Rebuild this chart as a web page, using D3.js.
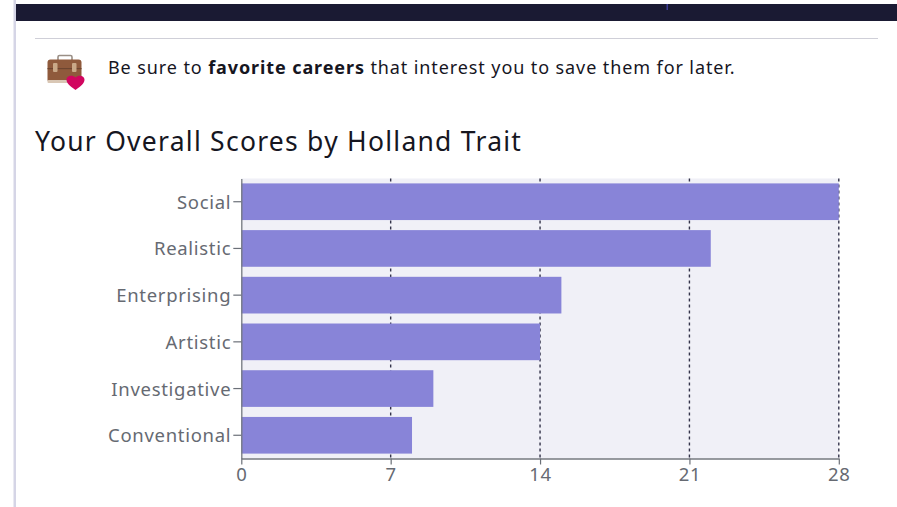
<!DOCTYPE html>
<html>
<head>
<meta charset="utf-8">
<script src="https://cdn.jsdelivr.net/npm/d3@7"></script>
<style>
  html, body { margin: 0; padding: 0; background: #fff; overflow: hidden; }
  svg { display: block; }
  text { font-family: "Noto Sans", "Open Sans", sans-serif; }
</style>
</head>
<body>
<svg id="chart" width="897" height="507"></svg>
<script>
const traits = ["Social", "Realistic", "Enterprising", "Artistic", "Investigative", "Conventional"];
const scores = [28, 22, 15, 14, 9, 8];
const xTicks = [0, 7, 14, 21, 28];

const svg = d3.select("#chart");

// Page chrome: left rail, dark header strip, divider
svg.append("rect").attr("x", 13.5).attr("y", 0).attr("width", 2.5).attr("height", 507).attr("fill", "#d5d5e6");
svg.append("rect").attr("x", 16).attr("y", 4).attr("width", 881).attr("height", 17).attr("fill", "#1a1a33");
svg.append("rect").attr("x", 666.5).attr("y", 4).attr("width", 1.5).attr("height", 6).attr("fill", "#3c3c96");
svg.append("rect").attr("x", 35).attr("y", 38).attr("width", 843).attr("height", 1).attr("fill", "#cfcfd8");

// Briefcase with heart badge
const icon = svg.append("g");
icon.append("path")
  .attr("d", "M58 60 v-3 q0 -1.5 1.5 -1.5 h11 q1.5 0 1.5 1.5 v3")
  .attr("fill", "none").attr("stroke", "#9a8f86").attr("stroke-width", 1.6);
icon.append("rect").attr("x", 47.5).attr("y", 59.5).attr("width", 34).attr("height", 23).attr("rx", 3).attr("fill", "#8f5a3c");
icon.append("rect").attr("x", 47.5).attr("y", 68).attr("width", 34).attr("height", 1.2).attr("fill", "#6d4530");
icon.append("rect").attr("x", 47.5).attr("y", 80).attr("width", 30).attr("height", 3).attr("rx", 1).attr("fill", "#d9c7b5");
[53, 72].forEach(x => {
  icon.append("rect").attr("x", x).attr("y", 63).attr("width", 4.5).attr("height", 9).attr("rx", 1).attr("fill", "#c9a988");
});
icon.append("path")
  .attr("d", "M75.5 90 C70 86 66.5 83.5 66.5 79.5 C66.5 75.5 72.5 74.5 75.5 77.5 C78.5 74.5 84.5 75.5 84.5 79.5 C84.5 83.5 81 86 75.5 90 Z")
  .attr("fill", "#d1065f");

// Reminder line
const note = svg.append("text").attr("x", 108).attr("y", 73.5)
  .attr("font-size", 18).attr("letter-spacing", 0.9).attr("fill", "#16161f");
note.append("tspan").text("Be sure to ");
note.append("tspan").attr("font-weight", 700).text("favorite careers");
note.append("tspan").text(" that interest you to save them for later.");

// Heading
svg.append("text").attr("x", 35).attr("y", 151)
  .attr("font-size", 26.5).attr("letter-spacing", 1.25).attr("fill", "#16161f")
  .text("Your Overall Scores by Holland Trait");

// Plot area
const plot = { left: 241.3, right: 838.8, top: 178.5, bottom: 458.5 };
const x = d3.scaleLinear().domain([0, 28]).range([plot.left, plot.right]);
const y = d3.scaleBand().domain(traits).range([plot.top, plot.bottom]).paddingInner(0.215).paddingOuter(0.105);

svg.append("rect")
  .attr("x", plot.left).attr("y", plot.top)
  .attr("width", plot.right - plot.left).attr("height", plot.bottom - plot.top)
  .attr("fill", "#f0f0f7");

// Vertical dashed gridlines, drawn under the bars
svg.append("g").selectAll("line")
  .data(xTicks.slice(1))
  .join("line")
  .attr("x1", d => x(d)).attr("x2", d => x(d))
  .attr("y1", plot.top).attr("y2", plot.bottom)
  .attr("stroke", "#33334a").attr("stroke-width", 1.4).attr("stroke-dasharray", "3,3");

// Bars
svg.append("g").selectAll("rect")
  .data(traits.map((t, i) => ({ trait: t, score: scores[i] })))
  .join("rect")
  .attr("x", x(0))
  .attr("y", d => y(d.trait))
  .attr("width", d => x(d.score) - x(0))
  .attr("height", y.bandwidth())
  .attr("fill", "#8884d8");

// Axes
const xAxis = svg.append("g")
  .attr("transform", `translate(0,${plot.bottom})`)
  .call(d3.axisBottom(x).tickValues(xTicks).tickSize(6).tickPadding(3).tickSizeOuter(0));
const yAxis = svg.append("g")
  .attr("transform", `translate(${plot.left},0)`)
  .call(d3.axisLeft(y).tickSize(8).tickPadding(2).tickSizeOuter(0));

[xAxis, yAxis].forEach(axis => {
  axis.selectAll("path").attr("stroke", "#74787f").attr("stroke-width", 1.3);
  axis.selectAll("line").attr("stroke", "#6b7078").attr("stroke-width", 1.2);
  axis.selectAll("text")
    .attr("font-family", '"Noto Sans", "Open Sans", sans-serif')
    .attr("font-size", 18.5).attr("letter-spacing", 0.7).attr("fill", "#666a72");
});
yAxis.selectAll("text").attr("dy", "0.38em");
</script>
</body>
</html>
